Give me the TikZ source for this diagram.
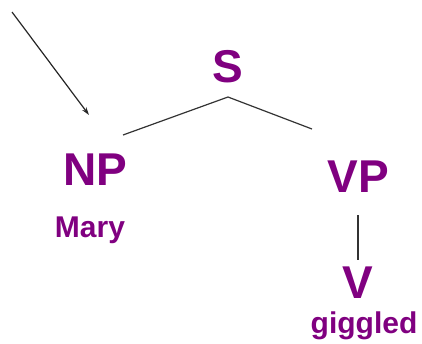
\documentclass[tikz,border=0pt]{standalone}
\usepackage{fontspec}
\setmainfont{Liberation Sans}
\usepackage{xcolor}
\usetikzlibrary{arrows.meta,positioning}

\definecolor{treepurple}{RGB}{128,0,128}

\begin{document}
\begin{tikzpicture}[
    x=1pt, y=1pt,
    cat/.style={text=treepurple, inner sep=0pt, anchor=base,
                font=\fontsize{46}{46}\selectfont\bfseries},
    word/.style={cat, font=\fontsize{30}{30}\selectfont\bfseries},
    branch/.style={draw=black!80, line width=1.2pt},
    >={Stealth[length=8pt,width=5pt]},
    ]
\useasboundingbox (0,0) rectangle (422,-343);

% ---- categories ----
\node[cat] (S) at (228,-82) {S};
\node[cat] (NP) at (95,-185) {NP};
\node[cat] (VP) at (358,-192) {VP};
\node[cat] (V) at (358,-298) {V};

% ---- words ----
\node[word] (mary) at (90,-237) {Mary};
\node[word] (giggled) at (364,-333) {giggled};

% ---- branches ----
\draw[branch] ([shift={(28,50)}]NP.base) -- ([yshift=-15pt]S.base)
              -- ([shift={(-46,63)}]VP.base);
\draw[branch] ([yshift=-23pt]VP.base) -- ([yshift=38pt]V.base);

% pointer into the subject
\coordinate (src) at (12,-12);
\draw[->, line width=1.2pt, black!85] (src) -- ([shift={(-6,70)}]NP.base);
\end{tikzpicture}
\end{document}
